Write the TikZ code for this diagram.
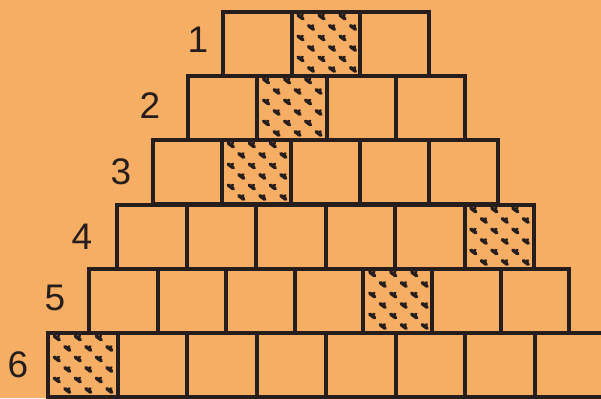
\documentclass[tikz,border=0pt]{standalone}
\usepackage{fontspec}
\setmainfont{Liberation Sans}
\definecolor{bg}{RGB}{246,173,100}
\definecolor{ink}{RGB}{38,30,28}
\begin{document}
\begin{tikzpicture}[x=1pt,y=-1pt,
  cell/.style={rectangle,draw=ink,line width=4pt,minimum height=64pt,inner sep=0pt,outer sep=0pt},
  num/.style={font=\fontsize{37}{40}\selectfont,text=ink,inner sep=0pt},
  blob/.pic={\draw[ink,line width=3.6pt,line cap=round] (-2.6,-1.8) -- (2.2,1.7);
             \draw[ink,line width=2.8pt,line cap=round] (-0.4,-0.2) -- (1.8,-2.0);}]
\fill[bg] (0,0) rectangle (601,398);
\clip (0,0) rectangle (601,398);
\foreach \r/\n/\L/\W/\T/\h in {1/3/223/68.7/12/2, 2/4/188/69.25/76/2, 3/5/153/69/140/2, 4/6/117/69.5/205/6, 5/7/89/68.6/269/5, 6/8/48/69.5/333/1}{
  \foreach \c in {1,...,\n}{
    \node[cell,minimum width=\W pt] (r\r-\c) at ({\L+(\c-0.5)*\W},{\T+32}) {};
  }
  \begin{scope}
    \clip ({\L+(\h-1)*\W},\T) rectangle ++(\W,64);
    \foreach \j in {0,...,6}{
      \foreach \i in {0,...,3}{
        \pic at ({\L+(\h-1)*\W+9+21*\i+10.5*mod(\j,2)},{\T+5+10.5*\j}) {blob};
      }
    }
  \end{scope}
}
\node[num] (n1) at (198,40) {1};
\node[num] (n2) at (150,106) {2};
\node[num] (n3) at (121,172) {3};
\node[num] (n4) at (82,237) {4};
\node[num] (n5) at (55,298) {5};
\node[num] (n6) at (18,365) {6};
\end{tikzpicture}
\end{document}
